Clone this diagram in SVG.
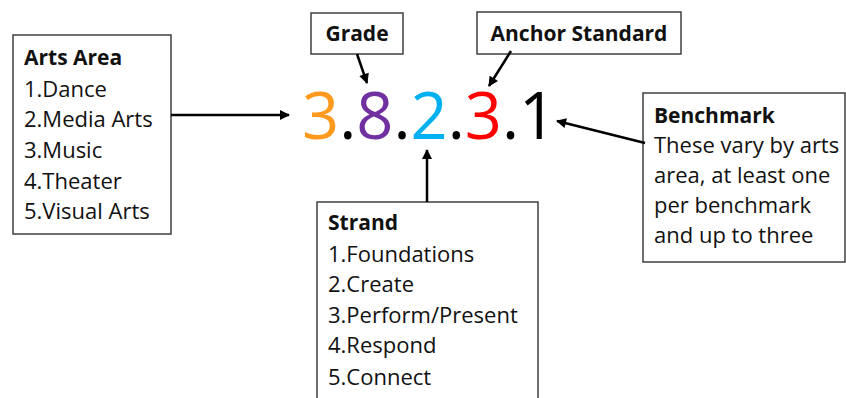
<svg xmlns="http://www.w3.org/2000/svg" width="846" height="398" viewBox="0 0 846 398">
<defs>
<style>
.box{fill:#fff;stroke:#3f3f3f;stroke-width:1.5}
.t{font-family:"Open Sans","Noto Sans",sans-serif;font-size:22px;fill:#111}
.b{font-family:"Open Sans","Noto Sans",sans-serif;font-size:21px;font-weight:bold;fill:#111}
.c{stroke:#000;stroke-width:2.5;fill:none;marker-end:url(#ah)}
</style>
<marker id="ah" viewBox="0 0 10 10" refX="9" refY="5" markerWidth="4.4" markerHeight="4" orient="auto" markerUnits="strokeWidth">
<path d="M0,0 L10,5 L0,10 z" fill="#000"/>
</marker>
</defs>
<rect width="846" height="398" fill="#fff"/>
<g id="arts-area">
<rect class="box" x="13" y="35" width="158" height="199"/>
<text class="b" x="24" y="65">Arts Area</text>
<text class="t" x="24" y="97">1.Dance</text>
<text class="t" x="24" y="127">2.Media Arts</text>
<text class="t" x="24" y="158">3.Music</text>
<text class="t" x="24" y="189">4.Theater</text>
<text class="t" x="24" y="219">5.Visual Arts</text>
</g>
<g id="grade">
<rect class="box" x="311" y="13" width="92" height="41"/>
<text class="b" x="357" y="41" text-anchor="middle">Grade</text>
</g>
<g id="anchor-standard">
<rect class="box" x="477" y="12" width="204" height="42"/>
<text class="b" x="579" y="41" text-anchor="middle">Anchor Standard</text>
</g>
<g id="code">
<text x="302" y="139" font-family="'Open Sans','Noto Sans',sans-serif" font-size="65"><tspan fill="#FF9A1F">3</tspan><tspan fill="#000">.</tspan><tspan fill="#7030A0">8</tspan><tspan fill="#000">.</tspan><tspan fill="#00B0F0">2</tspan><tspan fill="#000">.</tspan><tspan fill="#FF0000">3</tspan><tspan fill="#000">.1</tspan></text>
</g>
<g id="benchmark">
<rect class="box" x="643" y="93" width="202" height="169"/>
<text class="b" x="654" y="123">Benchmark</text>
<text class="t" x="654" y="153">These vary by arts</text>
<text class="t" x="654" y="183">area, at least one</text>
<text class="t" x="654" y="213">per benchmark</text>
<text class="t" x="654" y="243">and up to three</text>
</g>
<g id="strand">
<rect class="box" x="317" y="202" width="221" height="200"/>
<text class="b" x="328" y="230">Strand</text>
<text class="t" x="328" y="262">1.Foundations</text>
<text class="t" x="328" y="292">2.Create</text>
<text class="t" x="328" y="323">3.Perform/Present</text>
<text class="t" x="328" y="353">4.Respond</text>
<text class="t" x="328" y="385">5.Connect</text>
</g>
<g id="connectors">
<line class="c" x1="171" y1="115" x2="289" y2="115"/>
<line class="c" x1="357" y1="54" x2="367" y2="83"/>
<line class="c" x1="511" y1="51" x2="489" y2="86"/>
<line class="c" x1="427" y1="202" x2="427" y2="150"/>
<line class="c" x1="645" y1="143" x2="557" y2="121"/>
</g>
</svg>
